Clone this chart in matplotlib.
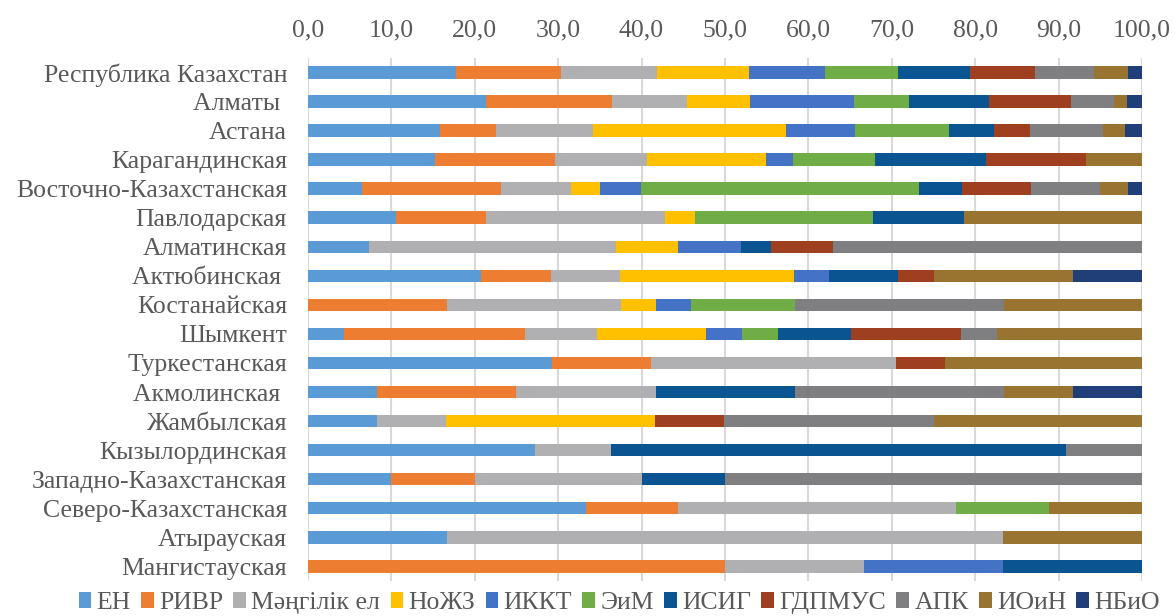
import numpy as np
import matplotlib
matplotlib.use('Agg')
import matplotlib.pyplot as plt

regions = ['Республика Казахстан', 'Алматы ', 'Астана', 'Карагандинская',
           'Восточно-Казахстанская', 'Павлодарская', 'Алматинская',
           'Актюбинская ', 'Костанайская', 'Шымкент', 'Туркестанская',
           'Акмолинская ', 'Жамбылская', 'Кызылординская',
           'Западно-Казахстанская', 'Северо-Казахстанская', 'Атырауская',
           'Мангистауская']

series = ['ЕН', 'РИВР', 'Мәңгілік ел', 'НоЖЗ', 'ИККТ', 'ЭиМ', 'ИСИГ',
          'ГДПМУС', 'АПК', 'ИОиН', 'НБиО']

# percent shares per region, in region order
EN     = [17.7, 21.4, 15.8, 15.2, 6.5, 10.6, 7.3, 20.8, 0.0, 4.3, 29.3, 8.3, 8.3, 27.2, 10.0, 33.3, 16.7, 0.0]
RIVR   = [12.6, 15.0, 6.8, 14.4, 16.7, 10.7, 0.0, 8.3, 16.7, 21.7, 11.8, 16.7, 0.0, 0.0, 10.0, 11.1, 0.0, 50.0]
MENGIL = [11.6, 9.0, 11.6, 11.0, 8.3, 21.5, 29.6, 8.3, 20.8, 8.7, 29.4, 16.7, 8.3, 9.1, 20.0, 33.3, 66.6, 16.7]
NOZHZ  = [11.0, 7.6, 23.1, 14.3, 3.5, 3.6, 7.5, 20.9, 4.2, 13.0, 0.0, 0.0, 25.0, 0.0, 0.0, 0.0, 0.0, 0.0]
IKKT   = [9.1, 12.5, 8.3, 3.2, 4.9, 0.0, 7.5, 4.2, 4.2, 4.4, 0.0, 0.0, 0.0, 0.0, 0.0, 0.0, 0.0, 16.6]
EIM    = [8.7, 6.5, 11.3, 9.9, 33.3, 21.4, 0.0, 0.0, 12.5, 4.3, 0.0, 0.0, 0.0, 0.0, 0.0, 11.1, 0.0, 0.0]
ISIG   = [8.7, 9.7, 5.4, 13.3, 5.2, 10.8, 3.6, 8.3, 0.0, 8.7, 0.0, 16.7, 0.0, 54.6, 10.0, 0.0, 0.0, 16.7]
GDPMUS = [7.8, 9.8, 4.3, 12.0, 8.3, 0.0, 7.4, 4.3, 0.0, 13.2, 5.9, 0.0, 8.3, 0.0, 0.0, 0.0, 0.0, 0.0]
APK    = [7.0, 5.1, 8.7, 0.0, 8.3, 0.0, 37.1, 0.0, 25.0, 4.3, 0.0, 25.0, 25.1, 9.1, 50.0, 0.0, 0.0, 0.0]
IOIN   = [4.1, 1.6, 2.6, 6.7, 3.3, 21.4, 0.0, 16.6, 16.6, 17.4, 23.6, 8.3, 25.0, 0.0, 0.0, 11.2, 16.7, 0.0]
NBIO   = [1.7, 1.8, 2.1, 0.0, 1.7, 0.0, 0.0, 8.3, 0.0, 0.0, 0.0, 8.3, 0.0, 0.0, 0.0, 0.0, 0.0, 0.0]

data = [EN, RIVR, MENGIL, NOZHZ, IKKT, EIM, ISIG, GDPMUS, APK, IOIN, NBIO]
colors = ['#5B9BD5', '#ED7D31', '#B0B0B2', '#FFC000', '#4472C4', '#70AD47',
          '#0A5591', '#9E4020', '#7F7F82', '#997330', '#203F78']

plt.rcParams['font.family'] = ['Liberation Serif', 'DejaVu Serif']
txt = '#595959'

fig = plt.figure(figsize=(11.75, 6.16), dpi=100)
ax = fig.add_axes([0.262, 0.057, 0.71, 0.849])

y = np.arange(len(regions))
left = np.zeros(len(regions))
for name, vals, c in zip(series, data, colors):
    vals = np.array(vals)
    ax.barh(y, vals, left=left, height=0.43, color=c, label=name, zorder=3)
    left += vals

ax.set_xlim(0, 100)
ax.set_ylim(len(regions) - 0.5, -0.5)
ax.set_yticks(y)
ax.set_yticklabels(regions, fontsize=18.5)
ticks = np.arange(0, 101, 10)
ax.set_xticks(ticks)
ax.set_xticklabels(['{:.1f}'.format(t).replace('.', ',') for t in ticks], fontsize=18.5)
ax.xaxis.tick_top()
ax.tick_params(axis='both', length=0, colors=txt)
ax.tick_params(axis='y', pad=15)
ax.tick_params(axis='x', pad=12)
ax.grid(axis='x', color='#D9D9D9', linewidth=1.5, zorder=0)
for s in ax.spines.values():
    s.set_visible(False)

leg = fig.legend(loc='lower center', bbox_to_anchor=(0.527, -0.014), ncol=11,
                 frameon=False, fontsize=18.5, handlelength=0.5, handleheight=0.6,
                 handletextpad=0.2, columnspacing=0.4, borderaxespad=0)
for t in leg.get_texts():
    t.set_color(txt)

fig.savefig('out.png', dpi=100)
